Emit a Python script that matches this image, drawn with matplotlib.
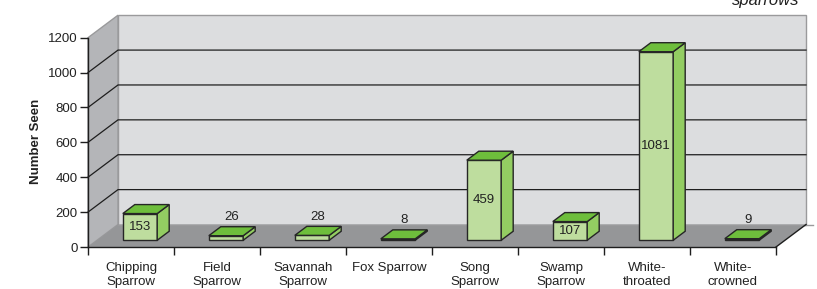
import matplotlib
matplotlib.use("Agg")
import matplotlib.pyplot as plt
from matplotlib.patches import Polygon
from matplotlib.lines import Line2D

plt.rcParams['font.family'] = ['Liberation Sans', 'DejaVu Sans']

# ---- data ----
categories = ["Chipping\nSparrow", "Field\nSparrow", "Savannah\nSparrow", "Fox Sparrow",
              "Song\nSparrow", "Swamp\nSparrow", "White-\nthroated", "White-\ncrowned"]
counts = [153, 26, 28, 8, 459, 107, 1081, 9]
yticks = [0, 200, 400, 600, 800, 1000, 1200]
ylabel = "Number Seen"
title_text = "sparrows"

# ---- style ----
W, H = 817, 289
fig = plt.figure(figsize=(W / 100, H / 100), dpi=100)
ax = fig.add_axes([88 / W, 42 / H, 688 / W, 209.3 / H])
n = len(categories)
ymax = yticks[-1]
ax.set_xlim(0, n)
ax.set_ylim(0, ymax)

# depth offset (full depth) in data units
DX = 30 / (688 / n)
DY = 22.5 / (209.3 / ymax)


def P(x, y, d):
    return (x + d * DX, y + d * DY)


wall_col = '#DCDDDF'
side_col = '#B4B5B8'
floor_col = '#959698'
edge_gray = '#9A9A9C'
dark = '#1E1E1E'

def poly(pts, fc, ec, lw=1.0, z=1):
    ax.add_patch(Polygon(pts, closed=True, facecolor=fc, edgecolor=ec, lw=lw,
                         clip_on=False, zorder=z, joinstyle='miter'))

# back wall
poly([P(0, 0, 1), P(n, 0, 1), P(n, ymax, 1), P(0, ymax, 1)], wall_col, edge_gray, 1.0, 1)
# left wall
poly([P(0, 0, 0), P(0, ymax, 0), P(0, ymax, 1), P(0, 0, 1)], side_col, edge_gray, 1.0, 1)
# floor
poly([P(0, 0, 0), P(n, 0, 0), P(n, 0, 1), P(0, 0, 1)], floor_col, 'none', 0, 1)

# gridlines
for v in yticks[1:-1]:
    pts = [P(0, v, 0), P(0, v, 1), P(n, v, 1)]
    ax.add_line(Line2D([p[0] for p in pts], [p[1] for p in pts], color=dark, lw=0.9,
                       clip_on=False, zorder=2))
# floor back edge (slightly extended) and right edge
pb = [P(0, 0, 1), P(n + 0.08, 0, 1)]
ax.add_line(Line2D([p[0] for p in pb], [p[1] for p in pb], color=edge_gray, lw=1.0,
                   clip_on=False, zorder=2))
pr = [P(n, 0, 0), P(n, 0, 1)]
ax.add_line(Line2D([p[0] for p in pr], [p[1] for p in pr], color=dark, lw=1.0,
                   clip_on=False, zorder=2))

# bars
front_col = '#BEDD9E'
top_col = '#6EBE3C'
rside_col = '#93CD62'
bar_edge = '#262626'
bw = 0.4
d0, d1 = 0.3, 0.7
for i, v in enumerate(counts):
    x0 = i + (1 - bw) / 2
    x1 = x0 + bw
    poly([P(x0, 0, d0), P(x1, 0, d0), P(x1, v, d0), P(x0, v, d0)], front_col, bar_edge, 1.0, 3)
    poly([P(x1, 0, d0), P(x1, 0, d1), P(x1, v, d1), P(x1, v, d0)], rside_col, bar_edge, 1.0, 3)
    poly([P(x0, v, d0), P(x1, v, d0), P(x1, v, d1), P(x0, v, d1)], top_col, bar_edge, 1.0, 3)
    cx = (x0 + x1) / 2
    if v >= 60:
        ax.text(*P(cx, v / 2, d0), str(v), ha='center', va='center', fontsize=9.5,
                color='#222222', zorder=5)
    else:
        ax.annotate(str(v), P(cx, v, 0.5), xytext=(0, 10), textcoords='offset points',
                    ha='center', va='center', fontsize=9.5, color='#222222', zorder=5,
                    annotation_clip=False)

# axes / ticks
for s in ['top', 'right']:
    ax.spines[s].set_visible(False)
for s in ['left', 'bottom']:
    ax.spines[s].set_color(dark)
    ax.spines[s].set_linewidth(1.0)
    ax.spines[s].set_zorder(4)
ax.set_facecolor('none')
ax.set_yticks(yticks)
ax.set_yticklabels([str(t) for t in yticks])
ax.tick_params(axis='y', direction='out', length=6, width=1, color=dark, pad=1.5,
               labelsize=9.5, labelcolor='#222222')
ax.set_xticks(range(n + 1))
ax.set_xticklabels([''] * (n + 1))
ax.set_xticks([i + 0.5 for i in range(n)], minor=True)
ax.set_xticklabels(categories, minor=True)
ax.tick_params(axis='x', which='major', direction='out', length=6, width=1, color=dark)
ax.tick_params(axis='x', which='minor', length=0, pad=11, labelsize=9.5, labelcolor='#222222')

ax.text((36 - 88) / 688, (247 - 141) / 209.3, ylabel, transform=ax.transAxes, rotation=90,
        ha='center', va='center', fontsize=9.5, fontweight='bold', color='#222222')

fig.text(799 / W, (H - 4.5) / H, title_text, ha='right', va='baseline', fontsize=12,
         style='italic', color='#222222')

fig.savefig('out.png', dpi=100, facecolor='white')
